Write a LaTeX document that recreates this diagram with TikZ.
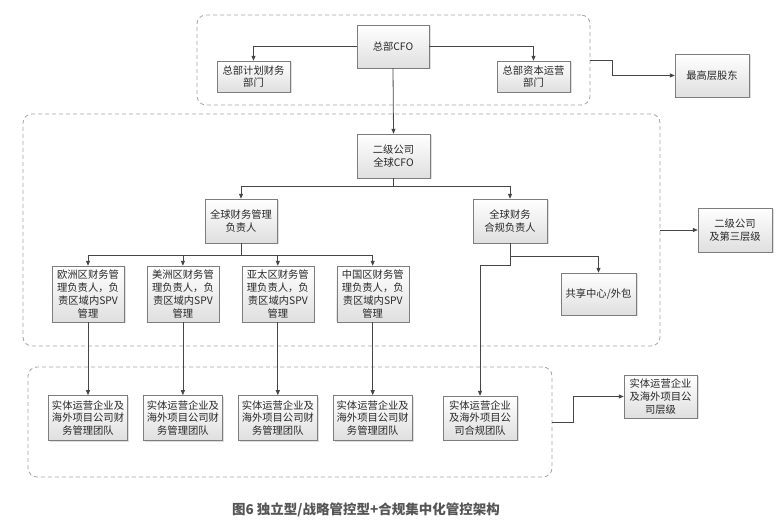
\documentclass[tikz,border=0pt]{standalone}
\usepackage{fontspec}
\newfontfamily\cjk{Noto Sans CJK SC}
\usetikzlibrary{positioning,arrows.meta,shadows}
\definecolor{boxline}{RGB}{125,125,125}
\definecolor{connline}{RGB}{70,70,70}
\definecolor{grpline}{RGB}{165,165,165}
\definecolor{captext}{RGB}{85,85,85}
\definecolor{boxtext}{RGB}{40,40,40}

\begin{document}
\begin{tikzpicture}[
    x=1pt, y=1pt,
    font=\cjk\fontsize{10.3}{12.8}\selectfont,
    box/.style={draw=boxline, top color=white, bottom color=gray!25, text=boxtext,
                drop shadow={opacity=0.25, shadow xshift=1.5pt, shadow yshift=-1.5pt},
                minimum width=73pt, minimum height=44pt, inner sep=2pt, align=center},
    grp/.style={draw=grpline, dash pattern=on 4pt off 3pt, rounded corners=9pt,
                line width=0.8pt},
    arr/.style={-{Triangle[length=5pt,width=4pt]}, draw=connline, line width=0.8pt}
]
\useasboundingbox (0,0) rectangle (783,524);

% dashed groups
\node[grp, minimum width=393pt, minimum height=90pt] (g1) at (393.5,464) {};
\node[grp, minimum width=637pt, minimum height=232pt] (g2) at (341.5,294) {};
\node[grp, minimum width=524pt, minimum height=110pt] (g3) at (290,102) {};

% headquarters
\node[box, minimum width=72pt, minimum height=43pt] (hq) at (393,477.5) {总部CFO};
\node[box, minimum height=31pt] (plan) at (253.5,447.5) {总部计划财务\\部门};
\node[box, minimum height=31pt] (capital) at (533.5,447.5) {总部资本运营\\部门};
\node[box, minimum width=74pt, minimum height=43pt] (holder) at (712,448.5) {最高层股东};

% second level
\node[box] (cfo2) at (393.5,368) {二级公司\\全球CFO};
\node[box, minimum width=72pt] (gfm) at (241,303) {全球财务管理\\负责人};
\node[box, minimum width=74pt] (gfc) at (510,303) {全球财务\\合规负责人};
\node[box, minimum width=75pt, minimum height=42pt] (share) at (598.5,230) {共享中心/外包};
\node[box, minimum width=74pt] (tier2) at (735,294) {二级公司\\及第三层级};

\node[box, minimum width=72pt, minimum height=56pt] (eu) at (88,230) {欧洲区财务管\\理负责人，负\\责区域内SPV\\管理};
\node[box, minimum width=72pt, minimum height=56pt, right=22.5pt of eu] (am) {美洲区财务管\\理负责人，负\\责区域内SPV\\管理};
\node[box, minimum width=72pt, minimum height=56pt, right=22.5pt of am] (ap) {亚太区财务管\\理负责人，负\\责区域内SPV\\管理};
\node[box, minimum width=72pt, minimum height=56pt, right=22.5pt of ap] (cn) {中国区财务管\\理负责人，负\\责区域内SPV\\管理};

% entity level
\node[box, minimum width=79pt, minimum height=45pt, below=73pt of eu] (teu) {实体运营企业及\\海外项目公司财\\务管理团队};
\node[box, minimum width=79pt, minimum height=45pt, below=73pt of am] (tam) {实体运营企业及\\海外项目公司财\\务管理团队};
\node[box, minimum width=79pt, minimum height=45pt, below=73pt of ap] (tap) {实体运营企业及\\海外项目公司财\\务管理团队};
\node[box, minimum width=79pt, minimum height=45pt, below=73pt of cn] (tcn) {实体运营企业及\\海外项目公司财\\务管理团队};
\node[box, minimum width=74pt] (cteam) at (480,106) {实体运营企业\\及海外项目公\\司合规团队};
\node[box, minimum height=43pt] (entity) at (660.5,127.5) {实体运营企业\\及海外项目公\\司层级};

\node[font=\cjk\bfseries\fontsize{13.5}{16}\selectfont, text=captext] (cap) at (366,14) {图6 独立型/战略管控型+合规集中化管控架构};

% connectors
\draw[arr] (hq.west) -| (plan.north);
\draw[arr] (hq.east) -| (capital.north);
\draw[arr] (hq.south) -- (cfo2.north);
\draw[arr] (g1.east) -- ++(22,0) |- (holder.west);
\draw[arr] (cfo2.south) -- ++(0,-8) -| (gfm.north);
\draw[arr] (cfo2.south) -- ++(0,-8) -| (gfc.north);
\draw[arr] (g2.east) -- (tier2.west);
\draw[arr] (gfm.south) -- ++(0,-12) -| (eu.north);
\draw[arr] (gfm.south) -- ++(0,-12) -| (am.north);
\draw[arr] (gfm.south) -- ++(0,-12) -| (ap.north);
\draw[arr] (gfm.south) -- ++(0,-12) -| (cn.north);
\draw[arr] (gfc.south) -- ++(0,-13) -| (share.north);
\draw[arr] (gfc.south) -- ++(0,-22) -| (cteam.north);
\draw[arr] (eu.south) -- (teu.north);
\draw[arr] (am.south) -- (tam.north);
\draw[arr] (ap.south) -- (tap.north);
\draw[arr] (cn.south) -- (tcn.north);
\draw[arr] (g3.east) -- ++(21,0) |- (entity.west);
\end{tikzpicture}
\end{document}
